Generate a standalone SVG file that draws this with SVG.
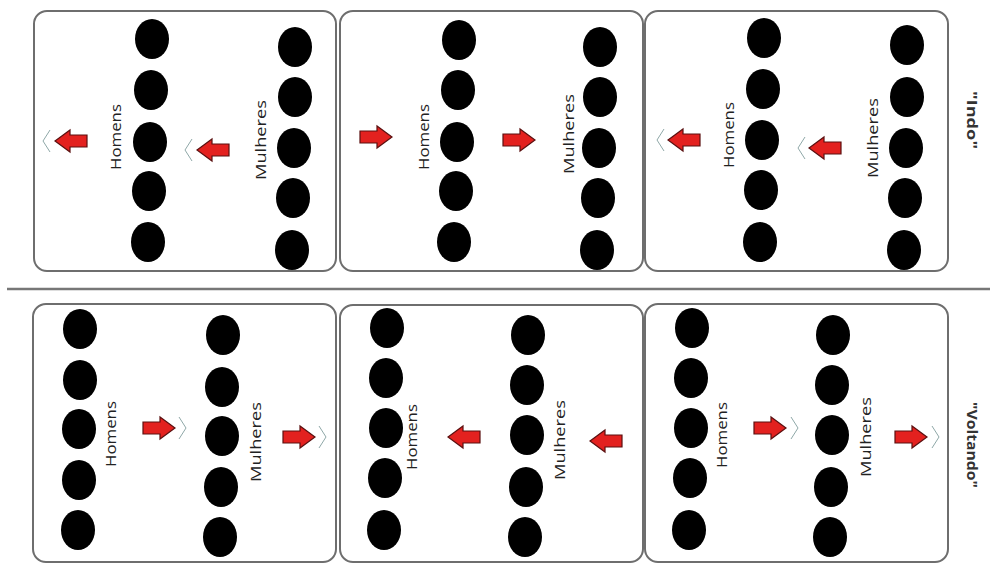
<svg xmlns="http://www.w3.org/2000/svg" width="990" height="565" viewBox="0 0 990 565">
<style>
.panel{fill:#fff;stroke:#6e6e6e;stroke-width:2}
.dot{fill:#000}
.lbl{font-family:"Open Sans","DejaVu Sans",sans-serif;font-size:15px;fill:#222;text-anchor:middle;dominant-baseline:central}
.side{font-family:"Open Sans","DejaVu Sans",sans-serif;font-size:15px;font-weight:bold;fill:#333;text-anchor:middle;dominant-baseline:central}
.arr{fill:#e3211f;stroke:#5a1010;stroke-width:1.2;stroke-linejoin:miter}
.chev{fill:none;stroke:#8fa8a8;stroke-width:1}
.sep{stroke:#777;stroke-width:2.5}
</style>
<defs>
<path id="ar" class="arr" d="M-16,-6 H1 V-11 L16,0 L1,11 V6 H-16 Z"/>
<polyline id="ch" class="chev" points="-3,-11 4,0 -3,11"/>
</defs>
<rect width="990" height="565" fill="#fff"/>
<line class="sep" x1="7" y1="289" x2="990" y2="289"/>

<g id="top-1">
<rect class="panel" x="34" y="11" width="302" height="260" rx="13"/>
<ellipse class="dot" cx="152" cy="39" rx="17" ry="20"/>
<ellipse class="dot" cx="151" cy="90" rx="17" ry="20"/>
<ellipse class="dot" cx="150" cy="142" rx="17" ry="20"/>
<ellipse class="dot" cx="149" cy="191" rx="17" ry="20"/>
<ellipse class="dot" cx="148" cy="242" rx="17" ry="20"/>
<ellipse class="dot" cx="295" cy="47" rx="17" ry="20"/>
<ellipse class="dot" cx="295" cy="97" rx="17" ry="20"/>
<ellipse class="dot" cx="294" cy="148" rx="17" ry="20"/>
<ellipse class="dot" cx="293" cy="198" rx="17" ry="20"/>
<ellipse class="dot" cx="292" cy="250" rx="17" ry="20"/>
<text class="lbl" transform="translate(115,137) rotate(-90)" textLength="66" lengthAdjust="spacingAndGlyphs">Homens</text>
<text class="lbl" transform="translate(260,140) rotate(-90)" textLength="80" lengthAdjust="spacingAndGlyphs">Mulheres</text>
<use href="#ar" transform="translate(71,141) scale(-1,1)"/>
<use href="#ch" transform="translate(47,141) scale(-1,1)"/>
<use href="#ar" transform="translate(213,150) scale(-1,1)"/>
<use href="#ch" transform="translate(189,150) scale(-1,1)"/>
</g>

<g id="top-2">
<rect class="panel" x="340" y="11" width="303" height="260" rx="13"/>
<ellipse class="dot" cx="459" cy="40" rx="17" ry="20"/>
<ellipse class="dot" cx="458" cy="90" rx="17" ry="20"/>
<ellipse class="dot" cx="457" cy="142" rx="17" ry="20"/>
<ellipse class="dot" cx="456" cy="191" rx="17" ry="20"/>
<ellipse class="dot" cx="454" cy="242" rx="17" ry="20"/>
<ellipse class="dot" cx="600" cy="47" rx="17" ry="20"/>
<ellipse class="dot" cx="600" cy="97" rx="17" ry="20"/>
<ellipse class="dot" cx="599" cy="148" rx="17" ry="20"/>
<ellipse class="dot" cx="598" cy="198" rx="17" ry="20"/>
<ellipse class="dot" cx="597" cy="250" rx="17" ry="20"/>
<text class="lbl" transform="translate(423,137) rotate(-90)" textLength="66" lengthAdjust="spacingAndGlyphs">Homens</text>
<text class="lbl" transform="translate(568,134) rotate(-90)" textLength="80" lengthAdjust="spacingAndGlyphs">Mulheres</text>
<use href="#ar" transform="translate(376,137)"/>
<use href="#ar" transform="translate(519,140)"/>
</g>

<g id="top-3">
<rect class="panel" x="645" y="11" width="303" height="260" rx="13"/>
<ellipse class="dot" cx="764" cy="38" rx="17" ry="20"/>
<ellipse class="dot" cx="763" cy="89" rx="17" ry="20"/>
<ellipse class="dot" cx="762" cy="140" rx="17" ry="20"/>
<ellipse class="dot" cx="761" cy="190" rx="17" ry="20"/>
<ellipse class="dot" cx="760" cy="242" rx="17" ry="20"/>
<ellipse class="dot" cx="907" cy="45" rx="17" ry="20"/>
<ellipse class="dot" cx="907" cy="97" rx="17" ry="20"/>
<ellipse class="dot" cx="906" cy="148" rx="17" ry="20"/>
<ellipse class="dot" cx="905" cy="198" rx="17" ry="20"/>
<ellipse class="dot" cx="904" cy="250" rx="17" ry="20"/>
<text class="lbl" transform="translate(728,135) rotate(-90)" textLength="66" lengthAdjust="spacingAndGlyphs">Homens</text>
<text class="lbl" transform="translate(872,138) rotate(-90)" textLength="80" lengthAdjust="spacingAndGlyphs">Mulheres</text>
<use href="#ar" transform="translate(684,140) scale(-1,1)"/>
<use href="#ch" transform="translate(661,140) scale(-1,1)"/>
<use href="#ar" transform="translate(825,148) scale(-1,1)"/>
<use href="#ch" transform="translate(802,148) scale(-1,1)"/>
</g>

<g id="bottom-1">
<rect class="panel" x="33" y="304" width="303" height="258" rx="13"/>
<ellipse class="dot" cx="80" cy="329" rx="17" ry="20"/>
<ellipse class="dot" cx="80" cy="380" rx="17" ry="20"/>
<ellipse class="dot" cx="79" cy="429" rx="17" ry="20"/>
<ellipse class="dot" cx="79" cy="480" rx="17" ry="20"/>
<ellipse class="dot" cx="78" cy="530" rx="17" ry="20"/>
<ellipse class="dot" cx="223" cy="335" rx="17" ry="20"/>
<ellipse class="dot" cx="222" cy="387" rx="17" ry="20"/>
<ellipse class="dot" cx="222" cy="436" rx="17" ry="20"/>
<ellipse class="dot" cx="221" cy="487" rx="17" ry="20"/>
<ellipse class="dot" cx="220" cy="537" rx="17" ry="20"/>
<text class="lbl" transform="translate(110,434) rotate(-90)" textLength="66" lengthAdjust="spacingAndGlyphs">Homens</text>
<text class="lbl" transform="translate(255,442) rotate(-90)" textLength="80" lengthAdjust="spacingAndGlyphs">Mulheres</text>
<use href="#ar" transform="translate(159,428)"/>
<use href="#ch" transform="translate(182,428)"/>
<use href="#ar" transform="translate(299,437)"/>
<use href="#ch" transform="translate(322,437)"/>
</g>

<g id="bottom-2">
<rect class="panel" x="340" y="305" width="303" height="257" rx="13"/>
<ellipse class="dot" cx="387" cy="328" rx="17" ry="20"/>
<ellipse class="dot" cx="386" cy="378" rx="17" ry="20"/>
<ellipse class="dot" cx="386" cy="428" rx="17" ry="20"/>
<ellipse class="dot" cx="385" cy="478" rx="17" ry="20"/>
<ellipse class="dot" cx="384" cy="530" rx="17" ry="20"/>
<ellipse class="dot" cx="528" cy="335" rx="17" ry="20"/>
<ellipse class="dot" cx="527" cy="385" rx="17" ry="20"/>
<ellipse class="dot" cx="527" cy="435" rx="17" ry="20"/>
<ellipse class="dot" cx="526" cy="487" rx="17" ry="20"/>
<ellipse class="dot" cx="525" cy="537" rx="17" ry="20"/>
<text class="lbl" transform="translate(411,437) rotate(-90)" textLength="66" lengthAdjust="spacingAndGlyphs">Homens</text>
<text class="lbl" transform="translate(559,440) rotate(-90)" textLength="80" lengthAdjust="spacingAndGlyphs">Mulheres</text>
<use href="#ar" transform="translate(464,437) scale(-1,1)"/>
<use href="#ar" transform="translate(606,441) scale(-1,1)"/>
</g>

<g id="bottom-3">
<rect class="panel" x="645" y="304" width="303" height="258" rx="13"/>
<ellipse class="dot" cx="692" cy="328" rx="17" ry="20"/>
<ellipse class="dot" cx="691" cy="378" rx="17" ry="20"/>
<ellipse class="dot" cx="691" cy="428" rx="17" ry="20"/>
<ellipse class="dot" cx="690" cy="478" rx="17" ry="20"/>
<ellipse class="dot" cx="689" cy="530" rx="17" ry="20"/>
<ellipse class="dot" cx="833" cy="335" rx="17" ry="20"/>
<ellipse class="dot" cx="832" cy="385" rx="17" ry="20"/>
<ellipse class="dot" cx="832" cy="435" rx="17" ry="20"/>
<ellipse class="dot" cx="831" cy="487" rx="17" ry="20"/>
<ellipse class="dot" cx="830" cy="537" rx="17" ry="20"/>
<text class="lbl" transform="translate(721,435) rotate(-90)" textLength="66" lengthAdjust="spacingAndGlyphs">Homens</text>
<text class="lbl" transform="translate(865,437) rotate(-90)" textLength="80" lengthAdjust="spacingAndGlyphs">Mulheres</text>
<use href="#ar" transform="translate(770,428)"/>
<use href="#ch" transform="translate(794,428)"/>
<use href="#ar" transform="translate(911,437)"/>
<use href="#ch" transform="translate(935,437)"/>
</g>

<g id="labels">
<text class="side" transform="translate(973,120) rotate(90)" textLength="58" lengthAdjust="spacingAndGlyphs">"Indo"</text>
<text class="side" transform="translate(973,445) rotate(90)" textLength="86" lengthAdjust="spacingAndGlyphs">"Voltando"</text>
</g>
</svg>
